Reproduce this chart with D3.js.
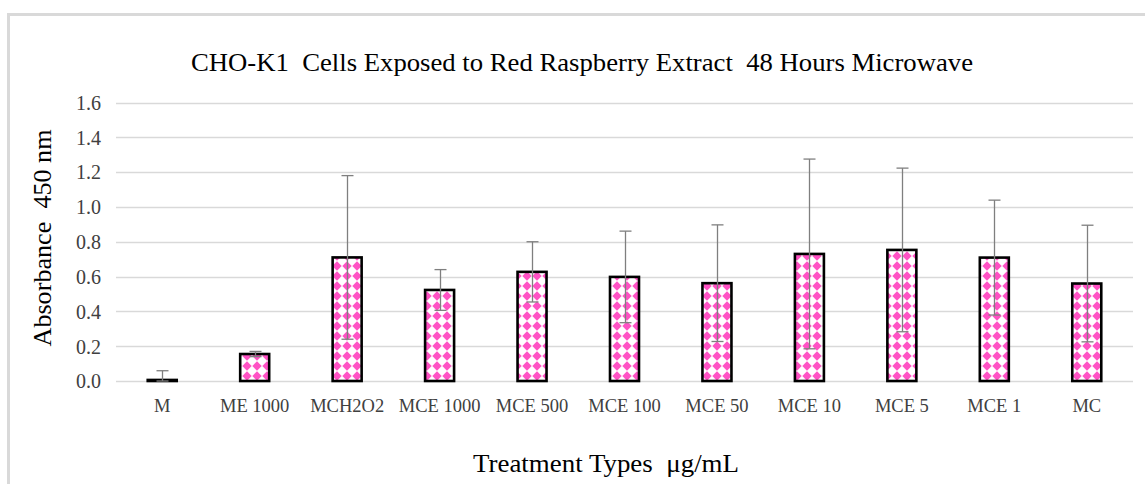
<!DOCTYPE html>
<html>
<head>
<meta charset="utf-8">
<script src="https://cdn.jsdelivr.net/npm/d3@7"></script>
<style>
  html, body { margin: 0; padding: 0; background: #fff; }
  svg { display: block; }
</style>
</head>
<body>
<svg id="chart" width="1145" height="484"></svg>
<script>
const categories = ["M", "ME 1000", "MCH2O2", "MCE 1000", "MCE 500", "MCE 100", "MCE 50", "MCE 10", "MCE 5", "MCE 1", "MC"];
const values = [0.006, 0.155, 0.71, 0.523, 0.627, 0.598, 0.562, 0.73, 0.753, 0.709, 0.56];
const errors = [0.053, 0.015, 0.47, 0.117, 0.173, 0.263, 0.335, 0.545, 0.47, 0.33, 0.335];
const yTicks = [0, 0.2, 0.4, 0.6, 0.8, 1.0, 1.2, 1.4, 1.6];
const title = "CHO-K1  Cells Exposed to Red Raspberry Extract  48 Hours Microwave";
const xTitle = "Treatment Types  \u03bcg/mL";
const yTitle = "Absorbance  450 nm";

const svg = d3.select("#chart");
const font = "Liberation Serif";

// chart area border (light gray, only top & left visible)
svg.append("path")
  .attr("d", "M8.5,484 L8.5,14.5 L1145,14.5")
  .attr("fill", "none").attr("stroke", "#d9d9d9").attr("stroke-width", 3);

// pattern
const defs = svg.append("defs");
const pat = defs.append("pattern")
  .attr("id", "diam").attr("patternUnits", "userSpaceOnUse")
  .attr("width", 10).attr("height", 10).attr("x", 2).attr("y", 1);
pat.append("rect").attr("width", 10).attr("height", 10).attr("fill", "#ffffff");
pat.append("polygon").attr("points", "5,0.3 9.7,5 5,9.7 0.3,5").attr("fill", "#ff52c4");

const x = d3.scaleBand().domain(categories).range([116, 1133]).paddingInner(0).paddingOuter(0);
const y = d3.scaleLinear().domain([0, 1.6]).range([381, 102.5]);

// gridlines
svg.append("g").selectAll("line").data(yTicks).join("line")
  .attr("x1", 116).attr("x2", 1133)
  .attr("y1", d => Math.round(y(d)) + 0.5).attr("y2", d => Math.round(y(d)) + 0.5)
  .attr("stroke", "#d9d9d9").attr("stroke-width", 1.3);

// y axis labels
const yAxis = d3.axisLeft(y).tickValues(yTicks).tickFormat(d3.format(".1f")).tickSize(0).tickPadding(0);
const yg = svg.append("g").attr("transform", "translate(101,0)").call(yAxis);
yg.select(".domain").remove();
yg.attr("font-family", null).attr("font-size", null);
yg.selectAll("text").style("font-family", font).style("font-size", "20px").attr("fill", "#404040").attr("dy", "0.34em");

// x axis labels
const xAxis = d3.axisBottom(x).tickSize(0).tickPadding(0);
const xg = svg.append("g").attr("transform", "translate(0,399)").call(xAxis);
xg.select(".domain").remove();
xg.attr("font-family", null).attr("font-size", null);
xg.selectAll("text").style("font-family", font).style("font-size", "18.5px").attr("fill", "#404040").attr("dy", "0.71em");

const barW = 29;
const data = categories.map((c, i) => ({c, v: values[i], e: errors[i]}));

// bars
svg.append("g").selectAll("rect").data(data).join("rect")
  .attr("x", d => x(d.c) + x.bandwidth() / 2 - barW / 2)
  .attr("y", d => y(d.v))
  .attr("width", barW)
  .attr("height", d => y(0) - y(d.v))
  .attr("fill", "url(#diam)")
  .attr("stroke", "#000").attr("stroke-width", 2.6);

// error bars
const eg = svg.append("g").attr("stroke", "#7f7f7f").attr("stroke-width", 1.3);
data.forEach(d => {
  const cx = Math.round(x(d.c) + x.bandwidth() / 2) + 0.5;
  const lo = Math.max(0, d.v - d.e), hi = d.v + d.e;
  eg.append("line").attr("x1", cx).attr("x2", cx).attr("y1", y(lo)).attr("y2", y(hi));
  eg.append("line").attr("x1", cx - 6).attr("x2", cx + 6).attr("y1", y(hi)).attr("y2", y(hi));
  eg.append("line").attr("x1", cx - 6).attr("x2", cx + 6).attr("y1", y(lo)).attr("y2", y(lo));
});

// title
svg.append("text").attr("x", 582).attr("y", 71).attr("text-anchor", "middle")
  .style("font-family", font).style("font-size", "26px").attr("fill", "#000")
  .attr("textLength", 782).attr("lengthAdjust", "spacingAndGlyphs")
  .style("white-space", "pre").text(title);

// x title
svg.append("text").attr("x", 606).attr("y", 472).attr("text-anchor", "middle")
  .style("font-family", font).style("font-size", "26px").attr("fill", "#000")
  .attr("textLength", 266).attr("lengthAdjust", "spacingAndGlyphs")
  .style("white-space", "pre").text(xTitle);

// y title
svg.append("text").attr("transform", "translate(51,238) rotate(-90)").attr("text-anchor", "middle")
  .style("font-family", font).style("font-size", "26px").attr("fill", "#000")
  .attr("textLength", 217).attr("lengthAdjust", "spacingAndGlyphs")
  .style("white-space", "pre").text(yTitle);
</script>
</body>
</html>
